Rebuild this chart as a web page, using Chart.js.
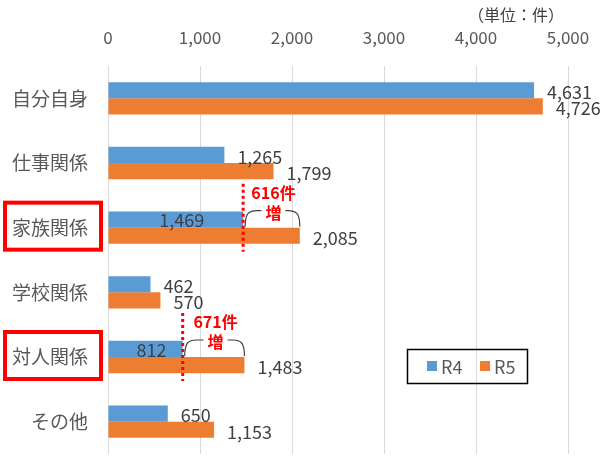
<!DOCTYPE html>
<html>
<head>
<meta charset="utf-8">
<script src="https://cdn.jsdelivr.net/npm/chart.js@4"></script>
<style>
  html, body { margin: 0; padding: 0; background: #fff; }
  #wrap { width: 600px; height: 465px; position: relative; }
</style>
</head>
<body>
<div id="wrap"><canvas id="chart"></canvas></div>
<script>
// Data
const categories = ['自分自身', '仕事関係', '家族関係', '学校関係', '対人関係', 'その他'];
const r4Values = [4631, 1265, 1469, 462, 812, 650];
const r5Values = [4726, 1799, 2085, 570, 1483, 1153];
const seriesNames = ['R4', 'R5'];
const xTicks = [0, 1000, 2000, 3000, 4000, 5000];
const highlighted = ['家族関係', '対人関係'];
const unitLabel = '（単位：件）';

const BLUE = '#5B9BD5';
const ORANGE = '#ED7D31';
const FONT = '"Noto Sans CJK JP", "Noto Sans", sans-serif';

function fmt(v) { return v.toLocaleString('en-US'); }

// value labels; the R4 label sits inside the bar for the highlighted rows
const labelsPlugin = {
  id: 'labels',
  afterDatasetsDraw(chart) {
    const ctx = chart.ctx;
    ctx.save();
    ctx.font = '18px ' + FONT;
    ctx.fillStyle = '#404040';
    ctx.textBaseline = 'middle';
    chart.data.datasets.forEach((ds, di) => {
      chart.getDatasetMeta(di).data.forEach((bar, i) => {
        const inside = di === 0 && highlighted.includes(categories[i]);
        if (inside) {
          ctx.textAlign = 'center';
          ctx.fillText(fmt(ds.data[i]), (bar.base + bar.x) / 2 + 6, bar.y + 1);
        } else {
          ctx.textAlign = 'left';
          ctx.fillText(fmt(ds.data[i]), bar.x + 13, bar.y + 2);
        }
      });
    });
    ctx.restore();
  }
};

const notesPlugin = {
  id: 'notes',
  afterDraw(chart) {
    const ctx = chart.ctx;
    const xs = chart.scales.x;
    const ys = chart.scales.y;
    ctx.save();

    // unit label
    ctx.font = '16px ' + FONT;
    ctx.fillStyle = '#404040';
    ctx.textAlign = 'right';
    ctx.textBaseline = 'middle';
    ctx.fillText(unitLabel, 564, 15);

    highlighted.forEach(name => {
      const i = categories.indexOf(name);
      const cy = ys.getPixelForValue(i);
      const x1 = xs.getPixelForValue(r4Values[i]);
      const x2 = xs.getPixelForValue(r5Values[i]);
      const mid = (x1 + x2) / 2 + 2;

      // red box around category label
      ctx.strokeStyle = '#FF0000';
      ctx.lineWidth = 4;
      ctx.setLineDash([]);
      ctx.strokeRect(5, cy - 25, 96, 47);

      // dotted line at R4 value
      ctx.lineWidth = 3;
      ctx.setLineDash([3, 3]);
      ctx.beginPath();
      ctx.moveTo(x1, cy - 44);
      ctx.lineTo(x1, cy + 24);
      ctx.stroke();
      ctx.setLineDash([]);

      // bracket
      ctx.strokeStyle = '#404040';
      ctx.lineWidth = 1.2;
      const top = cy - 17;
      const bot = cy - 1;
      ctx.beginPath();
      ctx.moveTo(x1 + 2, bot);
      ctx.bezierCurveTo(x1 + 2, top + 2, x1 + 6, top, x1 + 14, top);
      ctx.lineTo(mid - 12, top);
      ctx.moveTo(mid + 12, top);
      ctx.lineTo(x2 - 12, top);
      ctx.bezierCurveTo(x2 - 4, top, x2, top + 2, x2, bot);
      ctx.stroke();

      // increase text
      ctx.fillStyle = '#FF0000';
      ctx.font = 'bold 16px ' + FONT;
      ctx.textAlign = 'center';
      ctx.fillText((r5Values[i] - r4Values[i]) + '件', mid, cy - 35);
      ctx.fillText('増', mid, cy - 15);
    });

    // legend
    ctx.strokeStyle = '#000';
    ctx.lineWidth = 1.5;
    ctx.strokeRect(407.5, 349.5, 120, 34);
    ctx.font = '18px ' + FONT;
    ctx.textAlign = 'left';
    const lx = [427, 480];
    chart.data.datasets.forEach((ds, di) => {
      ctx.fillStyle = ds.backgroundColor;
      ctx.fillRect(lx[di], 361, 10, 10);
      ctx.fillStyle = '#595959';
      ctx.fillText(ds.label, lx[di] + 14, 367);
    });

    ctx.restore();
  }
};

new Chart(document.getElementById('chart'), {
  type: 'bar',
  data: {
    labels: categories,
    datasets: [
      { label: seriesNames[0], data: r4Values, backgroundColor: BLUE },
      { label: seriesNames[1], data: r5Values, backgroundColor: ORANGE }
    ]
  },
  options: {
    indexAxis: 'y',
    animation: false,
    responsive: true,
    maintainAspectRatio: false,
    layout: { padding: { left: 0, right: 32, top: 0, bottom: 11 } },
    datasets: { bar: { categoryPercentage: 0.5, barPercentage: 1 } },
    plugins: { legend: { display: false }, tooltip: { enabled: false } },
    scales: {
      x: {
        position: 'top',
        min: 0,
        max: 5000,
        afterBuildTicks: s => { s.ticks = xTicks.map(v => ({ value: v })); },
        afterFit: s => { s.height = 66; s.paddingLeft = 0; s.paddingRight = 0; },
        grid: { color: '#D9D9D9', drawTicks: false },
        border: { display: false },
        ticks: {
          padding: 18,
          color: '#595959',
          font: { size: 17, family: FONT },
          callback: v => fmt(v)
        }
      },
      y: {
        afterFit: s => { s.width = 108; s.paddingTop = 0; s.paddingBottom = 0; },
        grid: { display: false, drawTicks: false },
        border: { display: false },
        ticks: {
          padding: 20,
          color: '#595959',
          font: { size: 19, family: FONT }
        }
      }
    }
  },
  plugins: [labelsPlugin, notesPlugin]
});
</script>
</body>
</html>
